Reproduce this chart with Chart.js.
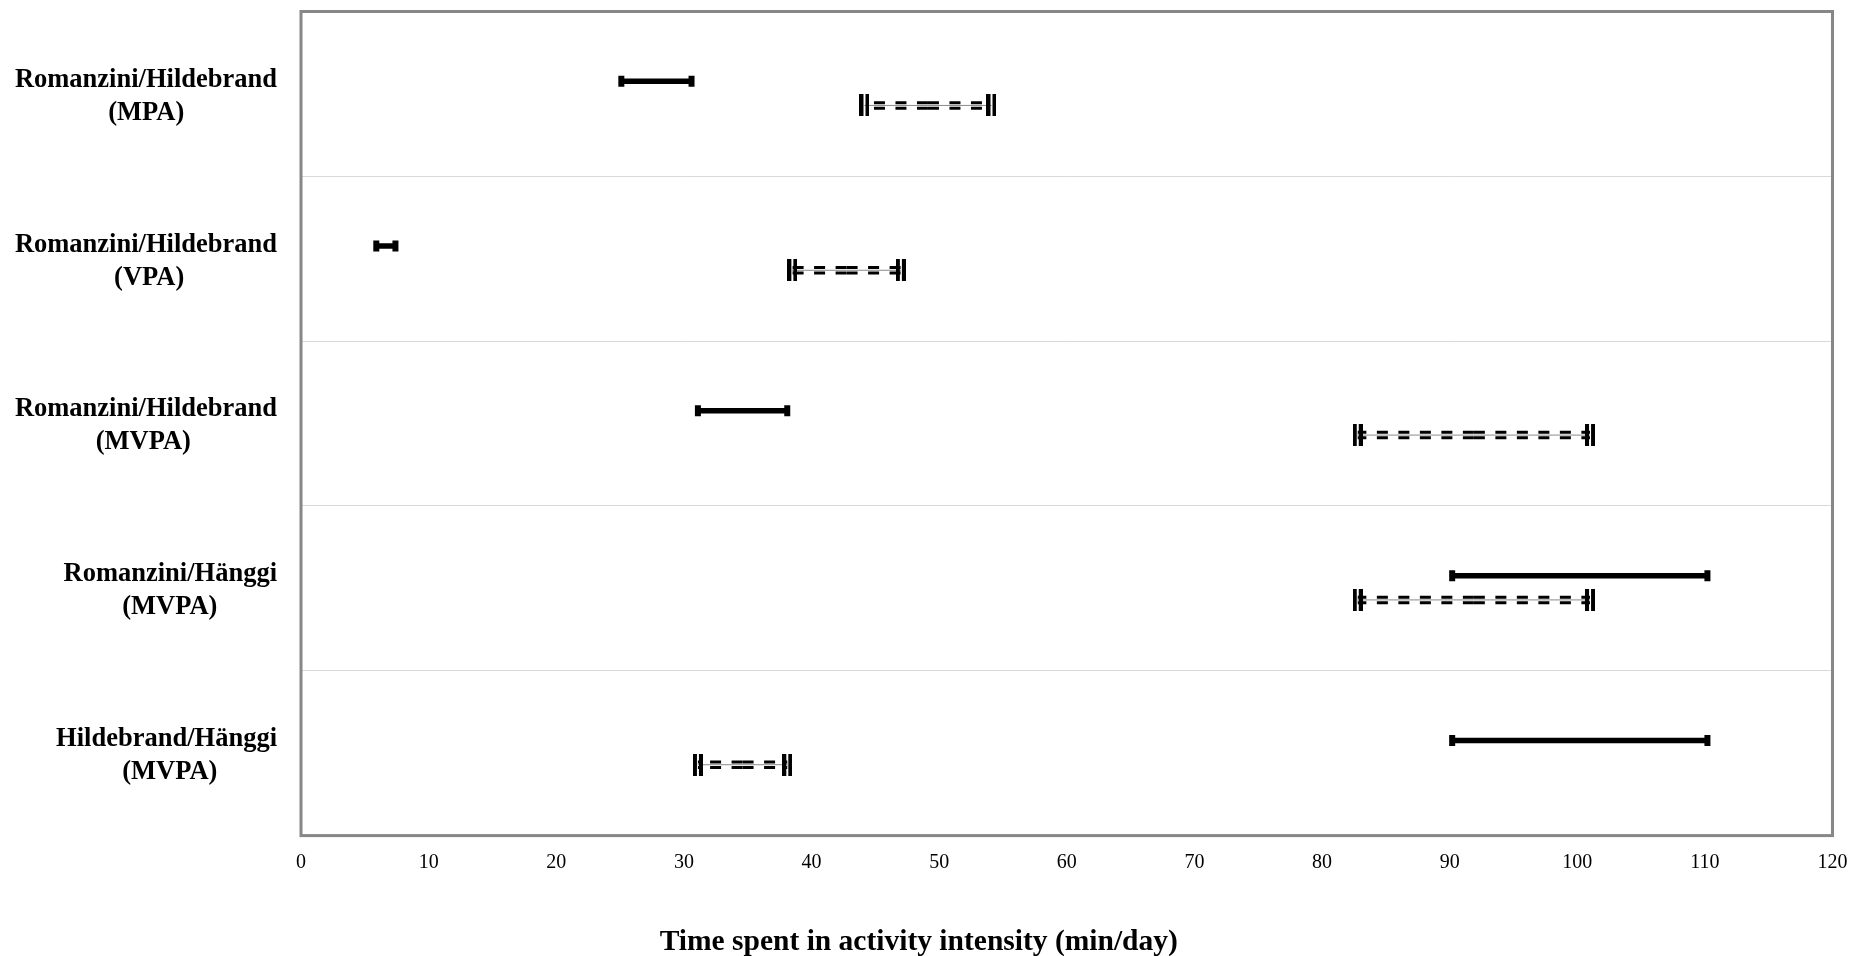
<!DOCTYPE html>
<html><head><meta charset="utf-8">
<script src="https://cdn.jsdelivr.net/npm/chart.js@4.4.0/dist/chart.umd.min.js"></script>
<style>html,body{margin:0;padding:0;background:#fff}#wrap{width:1856px;height:956px;position:relative}</style>
</head><body><div id="wrap"><canvas id="c"></canvas></div>
<script>
// ---- data ----
const categories = [
  'Romanzini/Hildebrand (MPA)',
  'Romanzini/Hildebrand (VPA)',
  'Romanzini/Hildebrand (MVPA)',
  'Romanzini/Hänggi (MVPA)',
  'Hildebrand/Hänggi (MVPA)'
];
const solidLow   = [25.1, 5.9, 31.1, 90.2, 90.2];
const solidHigh  = [30.6, 7.4, 38.1, 110.2, 110.2];
const dashedLow  = [44.15, 38.5, 82.8, 82.8, 31.1];
const dashedHigh = [54.1, 47.0, 101.0, 101.0, 38.1];
const xMin = 0, xMax = 120, xStep = 10;
const xTitle = 'Time spent in activity intensity (min/day)';

// ---- styling constants ----
const SOLID_SHIFT = 0.077;   // in band units, above band centre
const DASH_SHIFT = 0.07;     // below band centre
const LABEL_SIZE = 26.5;
const LABEL_FONT = 'bold ' + LABEL_SIZE + 'px "Liberation Serif"';

const measureCtx = document.createElement('canvas').getContext('2d');
measureCtx.font = LABEL_FONT;
function labelLines(cat) {
  const k = cat.lastIndexOf(' ');
  const l1 = cat.slice(0, k), l2 = cat.slice(k + 1);
  const w1 = measureCtx.measureText(l1).width, w2 = measureCtx.measureText(l2).width;
  const sp = measureCtx.measureText(' ').width;
  const n = Math.max(0, Math.round(((w1 - w2) / 2) / sp));
  return [l1, l2 + ' '.repeat(n)];
}

// double-bar cap for the dashed intervals
const cap = document.createElement('canvas');
cap.width = 10; cap.height = 22;
(function(){ const g = cap.getContext('2d'); g.fillStyle = '#000'; g.fillRect(0,0,4,22); g.fillRect(6,0,4,22); })();

const datasets = [];
categories.forEach((c, i) => {
  const ys = i + 0.5 - SOLID_SHIFT;
  const yd = i + 0.5 + DASH_SHIFT;
  datasets.push({
    data: [{x: solidLow[i], y: ys}, {x: solidHigh[i], y: ys}],
    showLine: true, borderColor: '#000', borderWidth: 5.5,
    pointStyle: 'line', pointRotation: 90, pointRadius: 5.5,
    pointBorderWidth: 6, pointBorderColor: '#000', pointBackgroundColor: '#000',
    order: 1
  });
  const mid = (dashedLow[i] + dashedHigh[i]) / 2;
  [dashedLow[i], dashedHigh[i]].forEach(end => datasets.push({
    data: [{x: mid, y: yd}, {x: end, y: yd}],
    showLine: true, borderColor: '#000', borderWidth: 8.5, borderDash: [11, 10.5],
    pointRadius: 0, order: 4
  }));
  datasets.push({
    data: [{x: dashedLow[i], y: yd}, {x: dashedHigh[i], y: yd}],
    showLine: true, borderColor: '#fff', borderWidth: 2.5, pointRadius: 0, order: 3
  });
  datasets.push({
    data: [{x: dashedLow[i], y: yd}, {x: dashedHigh[i], y: yd}],
    showLine: true, borderColor: '#8a8a8a', borderWidth: 1, pointRadius: 0, order: 2
  });
  datasets.push({
    data: [{x: dashedLow[i], y: yd}, {x: dashedHigh[i], y: yd}],
    showLine: false, pointStyle: cap, pointRadius: 5, order: 0
  });
});

const frame = {
  id: 'frame',
  afterDraw(chart) {
    const {ctx, chartArea: a} = chart;
    ctx.save();
    ctx.strokeStyle = '#878787';
    ctx.lineWidth = 3;
    ctx.strokeRect(a.left, a.top, a.right - a.left, a.bottom - a.top);
    ctx.restore();
  }
};

new Chart(document.getElementById('c'), {
  type: 'scatter',
  data: { datasets },
  plugins: [frame],
  options: {
    responsive: true, maintainAspectRatio: false, animation: false,
    devicePixelRatio: 1,
    layout: { padding: { left: 5, right: 23.5, top: 10, bottom: 0 } },
    plugins: {
      legend: { display: false },
      tooltip: { enabled: false },
      title: {
        display: true, position: 'bottom', text: xTitle, color: '#000',
        font: { family: 'Liberation Serif', size: 29.5, weight: 'bold', lineHeight: 1.2 },
        padding: { top: 0, bottom: -4 }
      }
    },
    scales: {
      x: {
        type: 'linear', min: xMin, max: xMax,
        grid: { display: false, drawTicks: false },
        border: { display: false },
        ticks: { stepSize: xStep, color: '#000', padding: 15, maxRotation: 0,
                 font: { family: 'Liberation Serif', size: 20 } },
        afterFit: s => { s.height = 89; s.paddingLeft = 0; s.paddingRight = 0; }
      },
      y: {
        type: 'linear', min: 0, max: categories.length, reverse: true,
        afterBuildTicks: s => { s.ticks = categories.map((c, i) => ({ value: i + 0.5 })); },
        grid: { display: true, offset: true, color: '#d9d9d9', lineWidth: 1, drawTicks: false },
        border: { display: false },
        ticks: {
          autoSkip: false, color: '#000', padding: 24, labelOffset: 2.5,
          font: { family: 'Liberation Serif', size: LABEL_SIZE, weight: 'bold', lineHeight: 1.25 },
          callback: (v, idx) => labelLines(categories[idx])
        },
        afterFit: s => { s.width = 296; s.paddingTop = 0; s.paddingBottom = 0; }
      }
    }
  }
});
</script>
</body></html>
